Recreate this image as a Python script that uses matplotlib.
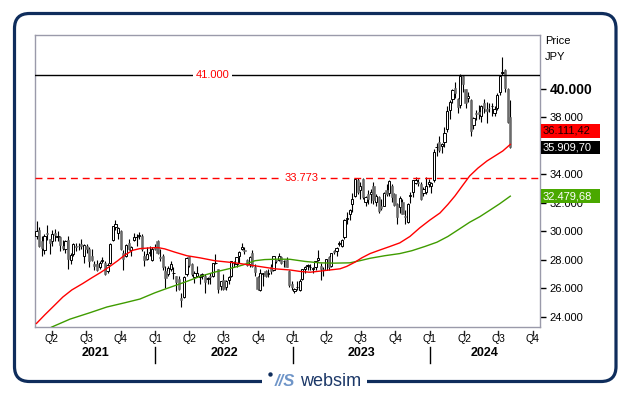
import matplotlib
matplotlib.use("Agg")
import matplotlib.pyplot as plt
import matplotlib.dates as mdates
import matplotlib.transforms as mtransforms
from matplotlib.patches import FancyBboxPatch, Rectangle, Circle
import numpy as np
import pandas as pd

plt.rcParams['font.family'] = ['Liberation Sans', 'DejaVu Sans']

# ---------------- data ----------------
first_week = "2021-02-19"
last_week = "2024-08-02"

opens = [
    29700, 30100, 29300, 28700, 29900, 29500, 29300, 29900, 29600, 29600,
    29000, 28800, 29400, 28000, 28400, 29000, 29000, 29100, 28300, 29000,
    28800, 28300, 27700, 27700, 27500, 27900, 27800, 27200, 27800, 29400,
    30300, 29900, 30000, 28500, 28300, 29200, 28700, 29400, 29600, 29700,
    29700, 28300, 28100, 28500, 28000, 28900,
    29300, 28200, 28300, 27200, 27000, 27400, 27100, 26900, 26700, 25300,
    25400, 27000, 28300, 27700, 26800, 26900, 26800, 26900, 26900, 26700,
    26900, 26900, 27800, 27400, 26200, 26600, 26100, 26600, 26900, 27800,
    27700, 28300, 28800, 28700, 28000, 27700, 28500, 27500, 26800, 25900,
    27000, 27200, 27000, 27500, 27300, 28000, 28000, 28200, 27900, 28000,
    27200, 26300,
    25800, 26100, 25900, 26700, 27400, 27600, 27500, 27400, 27500, 28000,
    27600, 27400, 27300, 28200, 27600, 28600, 28600, 29100, 29000, 29600,
    30900, 31200, 31900, 32500, 33600, 32900, 33700, 32100, 32600, 32600,
    33200, 32100, 32400, 31800, 31800, 32900, 32700, 33200, 32600, 31900,
    31700, 32100, 31100, 30700, 32500, 32800, 33400, 33500, 33300, 32700,
    32800, 33300,
    33200, 33600, 35900, 36300, 36000, 36300, 37200, 38500, 39300, 40100,
    39300, 38900, 40900, 40000, 39400, 39200, 37500, 38300, 38400, 38100,
    39000, 38600, 38700, 38800, 38300, 38700, 39800, 41100, 41300, 40000,
    38000,
]
highs = [
    30714, 30300, 29700, 29800, 30485, 29500, 30130, 30200, 30000, 29700,
    29400, 29400, 29700, 28500, 29200, 29200, 29200, 29500, 29100, 29100,
    28900, 28800, 27900, 28000, 27900, 28200, 27900, 27800, 29200, 30400,
    30795, 30300, 30100, 28700, 29100, 29500, 29000, 29900, 29800, 29960,
    29800, 28600, 28900, 29000, 28900, 29100,
    29400, 28800, 28400, 27600, 27600, 27900, 27500, 26900, 26900, 25700,
    26900, 28200, 28300, 27800, 27200, 27600, 27000, 27100, 27000, 26800,
    27100, 27800, 28400, 27400, 26500, 27000, 26600, 26900, 27950, 27900,
    28200, 28600, 29200, 28900, 28100, 28300, 28700, 27700, 26900, 27400,
    27100, 27300, 27400, 27700, 28300, 28000, 28500, 28300, 28000, 28200,
    27300, 26500,
    26000, 26500, 26700, 27400, 27550, 27700, 27700, 27500, 27950, 28700,
    27800, 27500, 28100, 28300, 28500, 28700, 28900, 29300, 29500, 30900,
    31350, 31600, 32700, 33720, 33770, 33500, 33773, 32500, 32900, 33000,
    33500, 32600, 32500, 32300, 32800, 33300, 33630, 33300, 32700, 32000,
    32500, 32300, 31500, 32000, 32800, 33600, 33850, 33650, 33500, 33100,
    33800, 33700,
    33500, 35800, 36200, 36700, 36200, 37300, 38800, 39200, 39990, 40470,
    39400, 41087, 40980, 40000, 39800, 39300, 38000, 38500, 38900, 38900,
    39300, 39100, 39000, 39000, 38800, 39700, 40950, 42224, 41400, 40100,
    39200,
]
lows = [
    29500, 28900, 28300, 28400, 29400, 28400, 29000, 29300, 29300, 28600,
    28700, 28500, 27400, 27700, 28300, 28600, 28700, 28800, 27800, 28500,
    27500, 27900, 27300, 27200, 27400, 27800, 26950, 27100, 27700, 29300,
    30100, 29500, 28700, 27300, 28200, 28700, 28300, 29300, 29000, 29500,
    28600, 27600, 28000, 28300, 27900, 28700,
    28400, 27900, 27300, 26050, 26900, 27200, 26700, 25800, 25900, 24680,
    25300, 26900, 27500, 26900, 26400, 26800, 26300, 26700, 25700, 26300,
    26300, 26800, 27700, 25700, 25900, 25900, 25900, 26300, 26800, 27500,
    27500, 27800, 28700, 28400, 27600, 27500, 27500, 26900, 25900, 25800,
    26200, 26800, 26800, 27000, 27200, 27800, 27900, 27700, 27500, 27500,
    26100, 25900,
    25660, 25900, 25800, 26600, 27100, 27300, 27300, 27100, 27300, 27900,
    26600, 26900, 27300, 27300, 27500, 28400, 28300, 29000, 28900, 29500,
    30500, 30800, 31400, 32400, 32600, 32300, 32300, 31800, 31900, 32000,
    31900, 31800, 31300, 31500, 31800, 32500, 32500, 32100, 31800, 30500,
    31300, 31200, 30550, 30600, 32000, 32400, 33300, 33200, 32200, 32500,
    32600, 33100,
    32700, 33500, 35300, 35600, 35500, 35900, 37000, 37900, 39000, 39400,
    38300, 38700, 39800, 38700, 39100, 36700, 37200, 37800, 37900, 37700,
    38300, 37600, 38400, 38100, 38100, 38500, 39600, 41000, 39800, 37600,
    35880,
]
closes = [
    30018, 28966, 28864, 29717, 29792, 29176, 29854, 29768, 29683, 29020,
    28812, 29357, 28084, 28317, 29149, 28941, 28948, 28964, 29066, 28783,
    27940, 28003, 27548, 27283, 27820, 27977, 27013, 27641, 29128, 30381,
    30500, 30248, 28771, 28048, 29068, 28804, 28892, 29611, 29609, 29745,
    28751, 28029, 28437, 28545, 28782, 28791,
    28479, 28124, 27522, 26717, 27440, 27696, 27122, 26476, 25985, 25163,
    26827, 28150, 27666, 26985, 27093, 27105, 26848, 27004, 26428, 26739,
    26782, 27762, 27824, 25963, 26491, 25935, 26517, 26788, 27915, 27802,
    28176, 28547, 28930, 28641, 27651, 28215, 27568, 27154, 25937, 27116,
    27091, 26891, 27105, 27200, 28264, 27900, 28283, 27778, 27901, 27527,
    26235, 26095,
    25974, 26120, 26554, 27383, 27509, 27671, 27514, 27454, 27927, 28144,
    27334, 27385, 28041, 27518, 28493, 28564, 28856, 29158, 29388, 30808,
    30916, 31524, 32265, 33706, 32782, 33189, 32388, 32391, 32304, 32759,
    32193, 32473, 31450, 31624, 32711, 32607, 33533, 32402, 31858, 30995,
    32316, 31259, 30991, 31950, 32568, 33585, 33626, 33432, 32307, 32970,
    33169, 33464,
    33377, 35577, 35963, 35751, 36158, 36897, 38487, 39098, 39910, 39688,
    38707, 40888, 40369, 38992, 39523, 37068, 37934, 38236, 38229, 38787,
    38646, 38488, 38683, 38814, 38596, 39583, 40912, 41190, 40063, 37667,
    35909.70,
]

ma_red_dates = [
    "2021-02-19", "2021-03-13", "2021-04-09", "2021-04-30", "2021-05-24",
    "2021-06-22", "2021-07-16", "2021-08-07", "2021-09-02", "2021-09-23",
    "2021-10-12", "2021-11-02", "2021-11-21", "2021-12-18", "2022-01-08",
    "2022-01-26", "2022-02-22", "2022-03-26", "2022-04-30", "2022-06-08",
    "2022-08-01", "2022-09-09", "2022-10-11", "2022-11-15", "2022-12-25",
    "2023-01-20", "2023-02-16", "2023-03-15", "2023-04-10", "2023-05-07",
    "2023-05-25", "2023-06-16", "2023-07-04", "2023-07-26", "2023-08-21",
    "2023-09-17", "2023-10-13", "2023-11-09", "2023-12-05", "2024-01-01",
    "2024-01-28", "2024-02-18", "2024-03-08", "2024-03-26", "2024-04-16",
    "2024-05-08", "2024-06-01", "2024-06-22", "2024-07-13", "2024-08-02",
]
ma_red_values = [
    23550, 24150, 24850, 25400, 25900,
    26350, 26750, 27100, 27550, 27950,
    28350, 28680, 28800, 28850, 28870,
    28780, 28550, 28300, 28150, 27950,
    27800, 27650, 27520, 27380, 27300,
    27200, 27140, 27220, 27300, 27380,
    27550, 27850, 28150, 28450, 28700,
    28950, 29200, 29650, 30250, 30800,
    31300, 31900, 32500, 33150, 33900,
    34450, 34950, 35300, 35650, 36111.42,
]
ma_green_dates = [
    "2021-02-19", "2021-04-01", "2021-05-19", "2021-07-11", "2021-08-25",
    "2021-10-12", "2021-11-21", "2021-12-31", "2022-01-26", "2022-02-22",
    "2022-03-26", "2022-04-30", "2022-06-08", "2022-07-18", "2022-08-22",
    "2022-09-23", "2022-10-19", "2022-11-23", "2022-12-25", "2023-02-03",
    "2023-03-15", "2023-04-22", "2023-06-02", "2023-06-29", "2023-07-26",
    "2023-09-03", "2023-10-13", "2023-11-14", "2023-12-19", "2024-01-20",
    "2024-02-18", "2024-03-21", "2024-04-16", "2024-05-13", "2024-06-09",
    "2024-07-05", "2024-08-02",
]
ma_green_values = [
    22700, 23300, 23850, 24300, 24700,
    25000, 25260, 25700, 25950, 26200,
    26500, 26850, 27150, 27400, 27650,
    27950, 28030, 28060, 28050, 27900,
    27800, 27780, 27800, 27950, 28120,
    28300, 28450, 28650, 28950, 29250,
    29650, 30200, 30650, 31040, 31500,
    31950, 32479.68,
]

level_solid = 41000
level_dashed = 33773
y_ticks = [24000, 26000, 28000, 30000, 32000, 34000, 36000, 38000, 40000]
bold_tick = 40000
covered_tick = 36000          # label hidden behind the last-price box
x_range = ("2021-02-15", "2024-10-20")
y_range = (23298, 43789)
quarter_range = ("2021-04-01", "2024-10-01")
currency_title = ["Price", "JPY"]
brand = "websim"

# ---------------- helpers ----------------
def de_fmt(v, dec=0):
    s = f"{v:,.{dec}f}"
    return s.replace(",", "X").replace(".", ",").replace("X", ".")

NAVY = "#0f2d5c"
RED = "#ff0000"
GREEN = "#3f9c00"
GRAY_C = "#6b6b6b"

W, H = 629, 395
fig = plt.figure(figsize=(W / 100, H / 100), dpi=100)
fig.patch.set_facecolor("white")

ax_l, ax_t, ax_r, ax_b = 35, 35, 540, 327
ax = fig.add_axes([ax_l / W, 1 - ax_b / H, (ax_r - ax_l) / W, (ax_b - ax_t) / H])
ax.set_facecolor("white")

dates = pd.date_range(first_week, last_week, freq="W-FRI")
x = mdates.date2num(dates.to_pydatetime())
o = np.array(opens, float)
h = np.array(highs, float)
l = np.array(lows, float)
c = np.array(closes, float)
up = c >= o

ax.vlines(x, l, h, color="black", lw=0.8, zorder=3)
ax.bar(x[up], np.maximum((c - o)[up], 1), bottom=o[up], width=6.0, color="white",
       edgecolor="black", linewidth=0.7, zorder=4)
ax.bar(x[~up], (o - c)[~up], bottom=c[~up], width=6.0, color=GRAY_C,
       edgecolor=GRAY_C, linewidth=0.4, zorder=4)

xr = mdates.date2num(pd.to_datetime(ma_red_dates).to_pydatetime())
xg = mdates.date2num(pd.to_datetime(ma_green_dates).to_pydatetime())
ax.plot(xg, ma_green_values, color=GREEN, lw=1.0, zorder=5)
ax.plot(xr, ma_red_values, color=RED, lw=1.0, zorder=5)

ax.axhline(level_solid, color="black", lw=1.0, zorder=5)
ax.axhline(level_dashed, color=RED, lw=1.0, ls=(0, (5, 3.5)), zorder=5)

blend_ay = mtransforms.blended_transform_factory(ax.transAxes, ax.transData)
ax.text(0.352, level_solid, de_fmt(level_solid), transform=blend_ay, color=RED,
        fontsize=8, ha="center", va="center", zorder=6,
        bbox=dict(boxstyle="square,pad=0.25", fc="white", ec="none"))
ax.text(0.527, level_dashed, de_fmt(level_dashed), transform=blend_ay, color=RED,
        fontsize=8, ha="center", va="center", zorder=6,
        bbox=dict(boxstyle="square,pad=0.25", fc="white", ec="none"))

xmin = mdates.date2num(pd.Timestamp(x_range[0]).to_pydatetime())
xmax = mdates.date2num(pd.Timestamp(x_range[1]).to_pydatetime())
ax.set_xlim(xmin, xmax)
ax.set_ylim(*y_range)

for sp in ax.spines.values():
    sp.set_color("#9a9aaa")
    sp.set_linewidth(1.0)

# y axis on the right
ax.yaxis.tick_right()
ax.set_yticks(y_ticks)
labels = ax.set_yticklabels([de_fmt(v) for v in y_ticks])
for v, lab in zip(y_ticks, labels):
    if v == bold_tick:
        lab.set_fontweight("bold")
        lab.set_fontsize(10)
    else:
        lab.set_fontsize(8)
    if v == covered_tick:
        lab.set_visible(False)
ax.tick_params(axis="y", direction="out", length=4, width=1, pad=3, colors="black")

# x axis: quarters + years
ax.set_xticks([])
blend_xa = mtransforms.blended_transform_factory(ax.transData, ax.transAxes)
ah = ax_b - ax_t
qs = pd.date_range(quarter_range[0], quarter_range[1], freq="QS")
for q in qs:
    xq = mdates.date2num(q.to_pydatetime())
    ax.plot([xq, xq], [-4 / ah, -7.5 / ah], transform=blend_xa, color="#222222",
            lw=1, clip_on=False)
    ax.text(xq, -12 / ah, f"Q{q.quarter}", transform=blend_xa, ha="center",
            va="center", fontsize=7.5, color="black")

years = sorted(set(d.year for d in qs))
for yv in years:
    ys = mdates.date2num(pd.Timestamp(f"{yv}-01-01").to_pydatetime())
    ye = mdates.date2num(pd.Timestamp(f"{yv + 1}-01-01").to_pydatetime())
    mid = (max(ys, xmin) + min(ye, xmax)) / 2
    ax.text(mid, -26.5 / ah, str(yv), transform=blend_xa, ha="center",
            va="center", fontsize=9, fontweight="bold", color="black")
    if ys > xmin:
        ax.plot([ys, ys], [-20 / ah, -36 / ah], transform=blend_xa,
                color="black", lw=1, clip_on=False)

# title labels at right
fig.text(545 / W, 1 - 41 / H, currency_title[0], fontsize=8, ha="left", va="center")
fig.text(545 / W, 1 - 57 / H, currency_title[1], fontsize=8, ha="left", va="center")

# value boxes
trans_box = mtransforms.blended_transform_factory(fig.transFigure, ax.transData)
units_per_px = (y_range[1] - y_range[0]) / ah
box_h = 13.5 * units_per_px

def value_box(val, fc, tc, dy_px=0):
    tr = trans_box + mtransforms.ScaledTranslation(0, dy_px / 100, fig.dpi_scale_trans)
    fig.add_artist(Rectangle((541 / W, val - box_h / 2), 59 / W, box_h,
                             transform=tr, fc=fc, ec="none", zorder=9))
    fig.text(542.5 / W, val, de_fmt(val, 2), transform=tr, fontsize=8, color=tc,
             ha="left", va="center", zorder=10)

value_box(ma_red_values[-1], RED, "#1a0000", dy_px=13.5)
value_box(closes[-1], "black", "white")
value_box(ma_green_values[-1], "#4aa800", "white")

# outer rounded frame
fig.add_artist(FancyBboxPatch((14.5 / 100, (H - 381.5) / 100), 601.5 / 100, 368 / 100,
                              boxstyle="round,pad=0,rounding_size=0.15",
                              transform=fig.dpi_scale_trans, fc="none", ec=NAVY,
                              lw=2.3, zorder=1))
fig.add_artist(Rectangle((262 / 100, (H - 392) / 100), 105 / 100, 20 / 100,
                         transform=fig.dpi_scale_trans, fc="white", ec="none", zorder=2))
fig.add_artist(Circle((270.5 / 100, (H - 374.5) / 100), 0.022,
                      transform=fig.dpi_scale_trans, fc=NAVY, ec="none", zorder=3))
fig.text(285 / W, 1 - 381.5 / H, "//S", fontsize=12, fontstyle="italic",
         fontweight="bold", color="#6f95c8", ha="center", va="center", zorder=4)
fig.text(331 / W, 1 - 381 / H, brand, fontsize=13, color="#1c3868",
         ha="center", va="center", zorder=4)

fig.savefig("out.png", dpi=100, facecolor="white")
